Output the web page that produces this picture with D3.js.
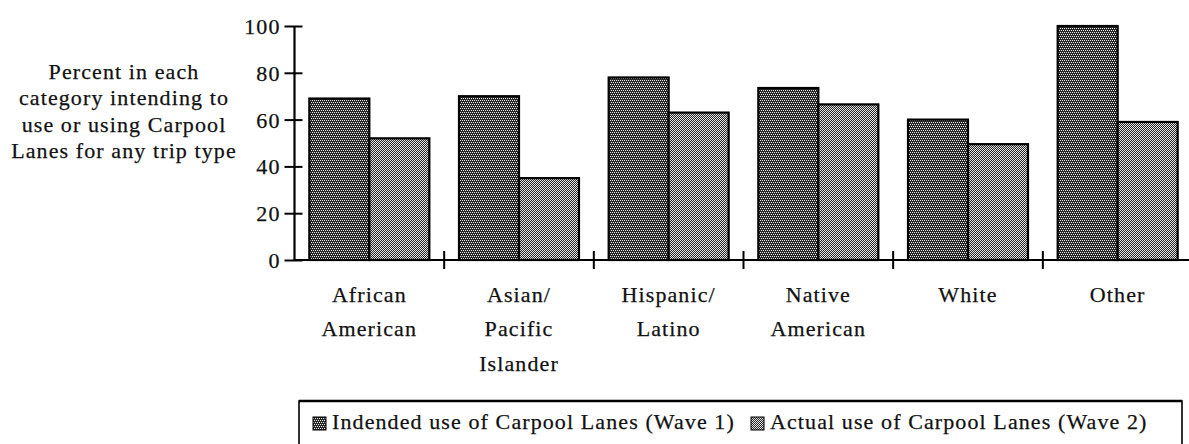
<!DOCTYPE html>
<html>
<head>
<meta charset="utf-8">
<script src="https://cdn.jsdelivr.net/npm/d3@7"></script>
<style>
  html, body { margin: 0; padding: 0; background: #fff; }
  svg { display: block; }
</style>
</head>
<body>
<svg id="chart" width="1189" height="444"></svg>
<script>
const categories = [
  ["African", "American"],
  ["Asian/", "Pacific", "Islander"],
  ["Hispanic/", "Latino"],
  ["Native", "American"],
  ["White"],
  ["Other"]
];
const wave1 = [69, 70, 78, 73.5, 60, 100];
const wave2 = [52, 35, 63, 66.5, 49.5, 59];
const seriesNames = ["Indended use of Carpool Lanes (Wave 1)", "Actual use of Carpool Lanes (Wave 2)"];
const yTicks = [0, 20, 40, 60, 80, 100];
const yTitle = ["Percent in each", "category intending to", "use or using Carpool", "Lanes for any trip type"];

const FONT = '"Liberation Serif"';
const svg = d3.select("#chart");
const defs = svg.append("defs");

// dark dotted pattern (wave 1)
const p1 = defs.append("pattern").attr("id", "pat1").attr("patternUnits", "userSpaceOnUse")
  .attr("width", 4).attr("height", 4);
p1.append("rect").attr("width", 4).attr("height", 4).attr("fill", "#262626");
[[0,0],[2,0],[1,2],[3,2]].forEach(([x,y]) =>
  p1.append("rect").attr("x", x).attr("y", y).attr("width", 1).attr("height", 1).attr("fill", "#ececec"));
// lighter checker pattern (wave 2)
const p2 = defs.append("pattern").attr("id", "pat2").attr("patternUnits", "userSpaceOnUse")
  .attr("width", 2).attr("height", 2);
p2.append("rect").attr("width", 2).attr("height", 2).attr("fill", "#262626");
[[0,0],[1,1]].forEach(([x,y]) =>
  p2.append("rect").attr("x", x).attr("y", y).attr("width", 1).attr("height", 1).attr("fill", "#e6e6e6"));

const fills = ["url(#pat1)", "url(#pat2)"];
const fontSize = 22, spacing = 1.1;

function styleText(sel) {
  return sel.style("font-family", FONT)
    .style("font-size", fontSize + "px").style("letter-spacing", spacing + "px")
    .attr("fill", "#111").attr("stroke", "#111").attr("stroke-width", 0.25);
}

const x = d3.scaleBand().domain(d3.range(categories.length)).range([294.5, 1192.5]).paddingInner(0).paddingOuter(0);
const y = d3.scaleLinear().domain([0, 100]).range([260, 26]);
const groupW = 120;
const xs = d3.scaleBand().domain([0, 1]).range([0, groupW]).padding(0);

// bars
const series = [wave1, wave2];
series.forEach((vals, si) => {
  svg.append("g").selectAll("rect").data(vals).join("rect")
    .attr("x", (d, i) => x(i) + (x.bandwidth() - groupW) / 2 + xs(si))
    .attr("y", d => y(d))
    .attr("width", xs.bandwidth())
    .attr("height", d => y(0) - y(d))
    .attr("fill", fills[si])
    .attr("stroke", "#000")
    .attr("stroke-width", 2.2);
});

// y axis
const yAxis = d3.axisLeft(y).tickValues(yTicks).tickSize(0).tickPadding(0);
const gy = svg.append("g").attr("transform", `translate(${x.range()[0]},0)`).call(yAxis);
gy.attr("font-family", null).attr("font-size", null);
gy.select(".domain").remove();
gy.append("line").attr("x1", 0).attr("x2", 0).attr("y1", y(100)).attr("y2", y(0) + 1).attr("stroke", "#000").attr("stroke-width", 2.2);
gy.selectAll(".tick line").remove();
gy.selectAll(".tick").append("line").attr("x1", -10).attr("x2", 8).attr("stroke", "#000").attr("stroke-width", 2);
styleText(gy.selectAll(".tick text").attr("x", -14).attr("dy", "0.34em"));

// x axis baseline + boundary ticks
svg.append("line").attr("x1", x.range()[0] - 1).attr("x2", 1189).attr("y1", y(0)).attr("y2", y(0))
  .attr("stroke", "#000").attr("stroke-width", 2.2);
const bounds = d3.range(1, categories.length).map(i => x(i));
svg.append("g").selectAll("line").data(bounds).join("line")
  .attr("x1", d => d).attr("x2", d => d).attr("y1", y(0) - 9).attr("y2", y(0) + 9)
  .attr("stroke", "#000").attr("stroke-width", 2);

// category labels
const lab = styleText(svg.append("g").selectAll("text").data(categories).join("text")
  .attr("text-anchor", "middle"));
lab.each(function(lines, i) {
  d3.select(this).selectAll("tspan").data(lines).join("tspan")
    .attr("x", x(i) + x.bandwidth() / 2)
    .attr("y", (d, j) => 301.5 + j * 34.5)
    .text(d => d);
});

// y title
styleText(svg.append("g").selectAll("text").data(yTitle).join("text")
  .attr("x", 124).attr("y", (d, i) => 78.5 + i * 26.5)
  .attr("text-anchor", "middle"))
  .text(d => d);

// legend
const lg = svg.append("g");
lg.append("rect").attr("x", 299).attr("y", 401).attr("width", 883).attr("height", 50)
  .attr("fill", "none").attr("stroke", "#000").attr("stroke-width", 1.6);
lg.append("line").attr("x1", 299).attr("x2", 1182).attr("y1", 401).attr("y2", 401).attr("stroke", "#000").attr("stroke-width", 2.4);
const legendX = [313, 751];
seriesNames.forEach((name, si) => {
  lg.append("rect").attr("x", legendX[si]).attr("y", 417).attr("width", 13).attr("height", 13)
    .attr("fill", fills[si]).attr("stroke", "#000").attr("stroke-width", 1);
  styleText(lg.append("text").attr("x", legendX[si] + 19).attr("y", 429))
    .text(name);
});
</script>
</body>
</html>
